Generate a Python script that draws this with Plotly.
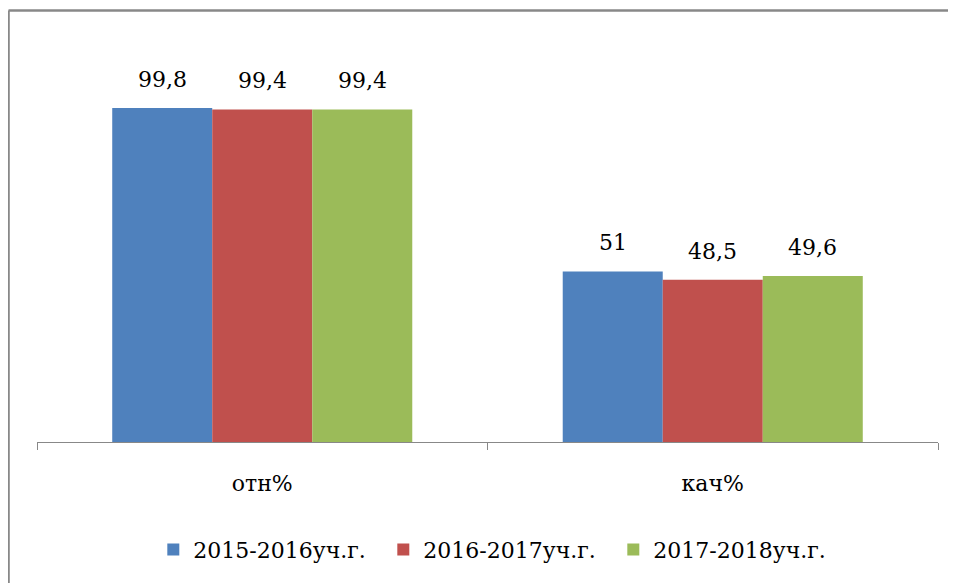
import plotly.graph_objects as go

# данные
categories = ["отн%", "кач%"]
series_names = ["2015-2016уч.г.", "2016-2017уч.г.", "2017-2018уч.г."]
values_2015 = [99.8, 51]
values_2016 = [99.4, 48.5]
values_2017 = [99.4, 49.6]
colors = ["#4F81BD", "#C0504D", "#9BBB59"]

all_values = [values_2015, values_2016, values_2017]
font_name = "DejaVu Serif"

fig = go.Figure()
for name, vals, col in zip(series_names, all_values, colors):
    fig.add_trace(go.Bar(x=categories, y=vals, name=name,
                         marker=dict(color=col, line=dict(width=0))))

# подписи значений над столбцами
annotations = []
for i, vals in enumerate(all_values):
    for cat, v in zip(categories, vals):
        annotations.append(dict(
            x=cat, y=v, xref="x", yref="y",
            text=f"{v:g}".replace(".", ","),
            showarrow=False, yanchor="bottom",
            xshift=(i - 1) * 100, yshift=14,
            font=dict(family=font_name, size=22, color="black")))

fig.update_layout(
    width=948, height=575,
    margin=dict(l=29, r=18, t=66, b=141),
    paper_bgcolor="white", plot_bgcolor="white",
    font=dict(family=font_name, size=22, color="black"),
    barmode="group", bargap=0.334, bargroupgap=0,
    annotations=annotations,
    showlegend=True,
    legend=dict(orientation="h", x=0.512, xanchor="center",
                y=-0.293, yanchor="middle",
                font=dict(family=font_name, size=22),
                itemwidth=30, tracegroupgap=0,
                entrywidth=185, entrywidthmode="pixels"),
    shapes=[
        dict(type="line", xref="paper", yref="paper",
             x0=-0.0316, x1=-0.0316, y0=1.1726, y1=-0.42,
             line=dict(color="#888888", width=2.5)),
        dict(type="line", xref="paper", yref="paper",
             x0=-0.0316, x1=1.03, y0=1.1726, y1=1.1726,
             line=dict(color="#888888", width=2.5)),
    ],
)
fig.update_xaxes(showline=True, linecolor="#888888", linewidth=1,
                 ticks="outside", tickson="boundaries", ticklen=7,
                 tickcolor="#888888", ticklabelstandoff=22,
                 tickfont=dict(family=font_name, size=22))
fig.update_yaxes(range=[0, 110], visible=False, showgrid=False)

fig.write_html("out.html")
